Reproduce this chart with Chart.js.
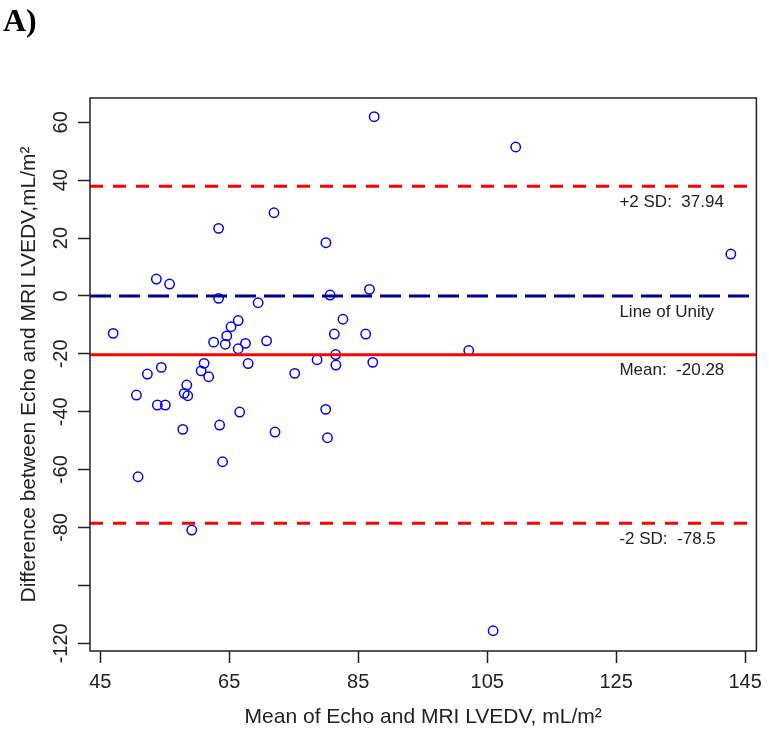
<!DOCTYPE html>
<html><head><meta charset="utf-8">
<script src="https://cdn.jsdelivr.net/npm/chart.js@4.4.1/dist/chart.umd.min.js"></script>
<style>html,body{margin:0;padding:0;background:#fff}canvas{display:block}</style>
</head><body>
<canvas id="c" width="769" height="732"></canvas>
<script>
// ---- data ----
const meanValues = [87.47,109.42,142.78,71.94,63.35,79.99,53.70,55.75,63.35,69.48,80.63,86.75,
  47.00,66.39,65.28,64.62,62.58,64.39,67.52,66.39,70.79,82.63,81.30,86.16,81.50,78.62,81.54,87.26,
  75.15,102.14,61.10,67.93,54.47,52.31,60.64,61.81,58.42,58.02,58.57,50.61,53.85,55.09,66.62,57.80,
  63.51,72.10,79.96,80.23,63.97,50.86,59.19,105.92];
const diffValues = [61.94,51.47,14.49,28.76,23.37,18.40,5.85,4.13,-0.82,-2.34,0.32,2.29,
  -12.91,-8.49,-10.63,-13.77,-15.95,-16.68,-16.37,-18.23,-15.50,-8.04,-13.15,-13.15,-20.23,-22.03,-23.86,-22.93,
  -26.73,-18.85,-23.28,-23.35,-24.66,-26.97,-25.87,-27.91,-30.77,-33.64,-34.47,-34.23,-37.68,-37.68,-40.10,-46.08,
  -44.60,-47.01,-39.17,-48.98,-57.28,-62.46,-80.88,-115.67];
const xTicks = [45, 65, 85, 105, 125, 145];
const yTicks = [60, 40, 20, 0, -20, -40, -60, -80, -100, -120];
const yTickLabels = ['60', '40', '20', '0', '-20', '-40', '-60', '-80', '', '-120'];
const refValues = [37.94, 0, -20.28, -78.5];
const refLabels = ['+2 SD:  37.94', 'Line of Unity', 'Mean:  -20.28', '-2 SD:  -78.5'];
const panelLabel = 'A)';
const xTitle = 'Mean of Echo and MRI LVEDV, mL/m\u00B2';
const yTitle = 'Difference between Echo and MRI LVEDV,mL/m\u00B2';

// ---- axis limits and styles ----
const X_MIN = 43.41, X_MAX = 146.74, Y_MIN = -122.66, Y_MAX = 68.40;
const LABEL_X = 125.5;
const refStyles = [
  {color: '#FF0000', dash: [13, 10]},
  {color: '#00008B', dash: [21, 8]},
  {color: '#FF0000', dash: []},
  {color: '#FF0000', dash: [13, 10]}
];
const FONT = '"Liberation Sans", Arial, sans-serif';
const INK = '#222';

const refDatasets = refValues.map((v, i) => ({
  type: 'line',
  data: [{x: X_MIN, y: v}, {x: X_MAX, y: v}],
  borderColor: refStyles[i].color,
  borderDash: refStyles[i].dash,
  borderWidth: 3,
  pointRadius: 0,
  fill: false,
  tension: 0
}));

const pointDataset = {
  type: 'scatter',
  data: meanValues.map((m, i) => ({x: m, y: diffValues[i]})),
  pointStyle: 'circle',
  pointRadius: 4.7,
  borderColor: '#0000FF',
  backgroundColor: 'rgba(0,0,0,0)',
  borderWidth: 1.5
};

const overlay = {
  id: 'overlay',
  afterDatasetsDraw(chart) {
    const {ctx, chartArea: a, scales: {x, y}} = chart;
    ctx.save();
    ctx.strokeStyle = INK;
    ctx.lineWidth = 1.5;
    ctx.strokeRect(a.left, a.top, a.right - a.left, a.bottom - a.top);
    ctx.font = '17px ' + FONT;
    ctx.fillStyle = INK;
    ctx.textAlign = 'left';
    ctx.textBaseline = 'middle';
    refValues.forEach((v, i) => {
      ctx.fillText(refLabels[i], x.getPixelForValue(LABEL_X), y.getPixelForValue(v) + 16);
    });
    ctx.font = 'bold 32px "Liberation Serif", "Times New Roman", serif';
    ctx.textBaseline = 'alphabetic';
    ctx.fillStyle = '#000';
    ctx.fillText(panelLabel, 3, 31);
    ctx.restore();
  }
};

new Chart(document.getElementById('c'), {
  data: {datasets: [...refDatasets, pointDataset]},
  options: {
    responsive: false,
    animation: false,
    events: [],
    devicePixelRatio: 1,
    layout: {padding: {left: 0, top: 98, right: 9, bottom: 0}},
    plugins: {legend: {display: false}, tooltip: {enabled: false}},
    scales: {
      x: {
        type: 'linear', position: 'bottom', min: X_MIN, max: X_MAX,
        afterBuildTicks: s => { s.ticks = xTicks.map(v => ({value: v})); },
        afterFit: s => { s.height = 81; },
        border: {display: false},
        grid: {display: true, drawOnChartArea: false, drawTicks: true, tickLength: 12, tickColor: INK, tickWidth: 1.5},
        ticks: {autoSkip: false, maxRotation: 0, padding: 7, color: INK, font: {family: FONT, size: 20},
          callback: v => String(v)},
        title: {display: true, text: xTitle, color: INK, font: {family: FONT, size: 21}, padding: {top: 0, bottom: 2}}
      },
      y: {
        type: 'linear', position: 'left', min: Y_MIN, max: Y_MAX,
        afterBuildTicks: s => { s.ticks = yTicks.map(v => ({value: v})); },
        afterFit: s => { s.width = 90; },
        border: {display: false},
        grid: {display: true, drawOnChartArea: false, drawTicks: true, tickLength: 12, tickColor: INK, tickWidth: 1.5},
        ticks: {autoSkip: false, minRotation: 90, maxRotation: 90, crossAlign: 'center', padding: -3, color: INK,
          font: {family: FONT, size: 20},
          callback: v => { const k = yTicks.indexOf(v); return k >= 0 ? yTickLabels[k] : ''; }},
        title: {display: true, text: yTitle, color: INK, font: {family: FONT, size: 21}, padding: {top: 17, bottom: 0}}
      }
    }
  },
  plugins: [overlay]
});
</script>
</body></html>
